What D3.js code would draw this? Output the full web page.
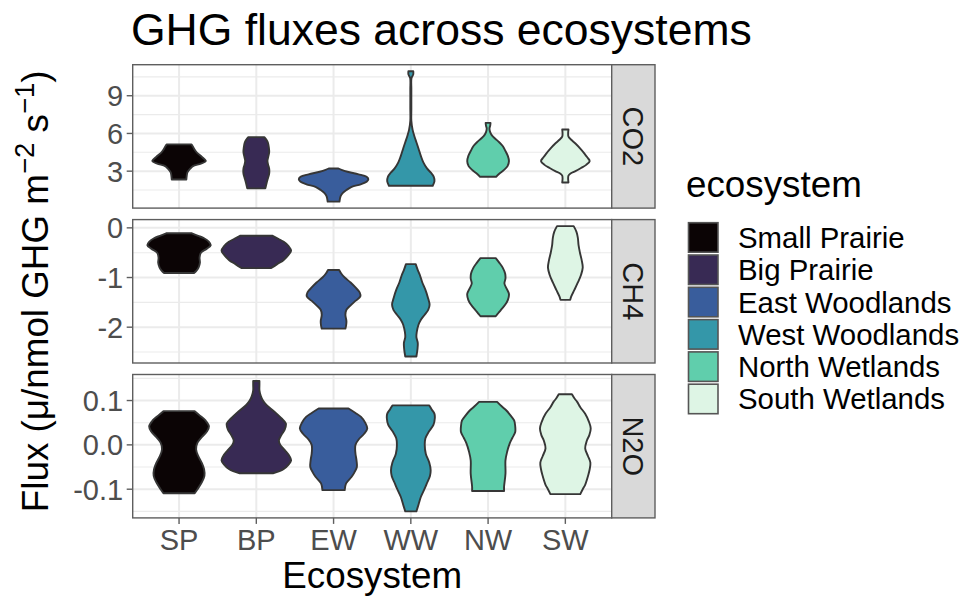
<!DOCTYPE html>
<html>
<head>
<meta charset="utf-8">
<script src="https://cdn.jsdelivr.net/npm/d3@7"></script>
<style>
  html, body { margin: 0; padding: 0; background: #fff; }
  svg { display: block; font-family: "Liberation Sans", Arial, Helvetica, sans-serif; }
</style>
</head>
<body>
<svg id="chart" width="965" height="596"></svg>
<script>
// Ecosystems (x categories) and their legend names
const codes = ["SP", "BP", "EW", "WW", "NW", "SW"];
const ecosystems = ["Small Prairie", "Big Prairie", "East Woodlands", "West Woodlands", "North Wetlands", "South Wetlands"];
const palette = ["#0B0405", "#382A54", "#395D9C", "#3497A9", "#60CEAC", "#DEF5E5"];

// Facet rows
const gases = ["CO2", "CH4", "N2O"];

// Tick values and labels per facet
const co2Ticks = [3, 6, 9];
const co2TickLabels = ["3", "6", "9"];
const ch4Ticks = [-2, -1, 0];
const ch4TickLabels = ["-2", "-1", "0"];
const n2oTicks = [-0.1, 0, 0.1];
const n2oTickLabels = ["-0.1", "0.0", "0.1"];

// Violin profiles: [flux value, scaled density (1 = widest violin)], top to bottom
const co2Density = [
  [[5.13,0.36],[4.95,0.40],[4.7,0.45],[4.45,0.52],[4.2,0.63],[3.95,0.73],[3.8,0.77],[3.6,0.63],[3.4,0.40],[3.2,0.32],[2.9,0.24],[2.6,0.22],[2.34,0.21]],
  [[5.71,0.23],[5.5,0.29],[5.3,0.33],[4.9,0.36],[4.5,0.37],[4.1,0.34],[3.8,0.32],[3.5,0.34],[3.2,0.37],[2.8,0.37],[2.5,0.34],[2.1,0.30],[1.63,0.26]],
  [[3.21,0.14],[3.1,0.23],[2.95,0.40],[2.75,0.72],[2.55,0.95],[2.35,1.0],[2.15,0.95],[1.95,0.78],[1.75,0.52],[1.5,0.37],[1.25,0.26],[1.0,0.20],[0.58,0.17]],
  [[10.95,0.07],[10.7,0.07],[10.4,0.02],[9.5,0.015],[8,0.015],[7,0.015],[6.3,0.05],[5.8,0.10],[5.3,0.16],[4.8,0.22],[4.2,0.29],[3.7,0.36],[3.2,0.47],[2.9,0.57],[2.55,0.66],[2.2,0.68],[1.84,0.63]],
  [[6.84,0.07],[6.6,0.06],[6.4,0.04],[6.1,0.06],[5.85,0.11],[5.6,0.20],[5.3,0.32],[5.0,0.42],[4.6,0.50],[4.2,0.57],[3.8,0.60],[3.4,0.56],[3.1,0.46],[2.8,0.32],[2.55,0.23]],
  [[6.31,0.09],[6.0,0.08],[5.75,0.09],[5.5,0.17],[5.2,0.29],[4.8,0.43],[4.4,0.55],[4.1,0.63],[3.8,0.70],[3.5,0.60],[3.25,0.45],[3.0,0.29],[2.8,0.14],[2.65,0.09],[2.4,0.08],[2.1,0.09]]
];
const ch4Density = [
  [[-0.11,0.37],[-0.16,0.55],[-0.21,0.72],[-0.28,0.86],[-0.35,0.91],[-0.42,0.80],[-0.5,0.63],[-0.6,0.59],[-0.7,0.60],[-0.8,0.56],[-0.87,0.49],[-0.91,0.43]],
  [[-0.16,0.47],[-0.22,0.63],[-0.28,0.79],[-0.36,0.92],[-0.46,1.0],[-0.55,0.92],[-0.65,0.78],[-0.73,0.60],[-0.81,0.43]],
  [[-0.85,0.16],[-0.92,0.22],[-1.0,0.32],[-1.1,0.49],[-1.2,0.63],[-1.3,0.75],[-1.38,0.77],[-1.47,0.63],[-1.56,0.49],[-1.65,0.37],[-1.75,0.34],[-1.88,0.37],[-1.97,0.36],[-2.03,0.34]],
  [[-0.73,0.14],[-0.85,0.20],[-0.95,0.26],[-1.1,0.33],[-1.25,0.42],[-1.4,0.49],[-1.55,0.54],[-1.65,0.50],[-1.75,0.40],[-1.85,0.29],[-1.95,0.22],[-2.1,0.17],[-2.2,0.16],[-2.32,0.20],[-2.45,0.19],[-2.59,0.16]],
  [[-0.61,0.22],[-0.7,0.32],[-0.8,0.42],[-0.92,0.49],[-1.02,0.50],[-1.12,0.47],[-1.22,0.53],[-1.33,0.60],[-1.45,0.57],[-1.55,0.49],[-1.65,0.37],[-1.72,0.29],[-1.78,0.22]],
  [[0.035,0.24],[-0.08,0.32],[-0.2,0.36],[-0.35,0.38],[-0.5,0.42],[-0.65,0.47],[-0.8,0.50],[-0.95,0.45],[-1.1,0.36],[-1.25,0.26],[-1.38,0.17],[-1.45,0.14]]
];
const n2oDensity = [
  [[0.076,0.45],[0.066,0.60],[0.055,0.76],[0.042,0.86],[0.03,0.80],[0.018,0.66],[0.005,0.53],[-0.01,0.49],[-0.025,0.55],[-0.04,0.65],[-0.055,0.72],[-0.07,0.73],[-0.085,0.65],[-0.1,0.53],[-0.109,0.45]],
  [[0.144,0.09],[0.135,0.09],[0.123,0.09],[0.11,0.13],[0.1,0.19],[0.09,0.29],[0.075,0.52],[0.06,0.72],[0.048,0.85],[0.035,0.82],[0.022,0.72],[0.01,0.65],[0.0,0.69],[-0.012,0.82],[-0.025,0.95],[-0.035,1.0],[-0.045,0.92],[-0.055,0.78],[-0.064,0.48]],
  [[0.082,0.43],[0.072,0.63],[0.063,0.79],[0.05,0.91],[0.037,0.97],[0.025,0.88],[0.012,0.72],[0.0,0.63],[-0.01,0.62],[-0.02,0.63],[-0.035,0.66],[-0.05,0.67],[-0.062,0.60],[-0.072,0.52],[-0.087,0.36],[-0.102,0.32]],
  [[0.089,0.53],[0.08,0.60],[0.07,0.68],[0.06,0.69],[0.045,0.65],[0.03,0.52],[0.015,0.42],[0.0,0.40],[-0.02,0.43],[-0.04,0.53],[-0.057,0.57],[-0.07,0.55],[-0.087,0.46],[-0.1,0.39],[-0.117,0.29],[-0.135,0.22],[-0.15,0.16]],
  [[0.097,0.26],[0.087,0.39],[0.078,0.52],[0.066,0.65],[0.055,0.75],[0.042,0.78],[0.029,0.78],[0.016,0.70],[0.003,0.62],[-0.015,0.55],[-0.035,0.50],[-0.065,0.50],[-0.094,0.46],[-0.104,0.46]],
  [[0.114,0.19],[0.105,0.26],[0.097,0.34],[0.085,0.43],[0.07,0.57],[0.052,0.68],[0.037,0.73],[0.022,0.69],[0.01,0.62],[-0.008,0.57],[-0.025,0.65],[-0.04,0.72],[-0.055,0.70],[-0.068,0.66],[-0.09,0.57],[-0.1,0.50],[-0.111,0.43]]
];

const facets = [
  { gas: gases[0], profiles: co2Density, ticks: co2Ticks, labels: co2TickLabels },
  { gas: gases[1], profiles: ch4Density, ticks: ch4Ticks, labels: ch4TickLabels },
  { gas: gases[2], profiles: n2oDensity, ticks: n2oTicks, labels: n2oTickLabels }
];

// Layout
const panelLeft = 132.7, panelRight = 611.7;
const panelTop = 64.7, panelH = 143.4, panelGap = 11.5;
const stripW = 43.3;
const borderCol = "#5e5e5e";
const tickFont = 29, legendFont = 29.4, baseFont = 36.8;

const svg = d3.select("#chart");

const x = d3.scalePoint().domain(codes).range([panelLeft, panelRight]).padding(0.6);
const halfMax = 0.45 * x.step();

facets.forEach((f, i) => {
  const top = panelTop + i * (panelH + panelGap);
  const bottom = top + panelH;

  // data range with 5% expansion, as in the default continuous scale
  const all = f.profiles.flat().map(d => d[0]);
  const lo = d3.min(all), hi = d3.max(all), r = hi - lo;
  const y = d3.scaleLinear().domain([lo - 0.05 * r, hi + 0.05 * r]).range([bottom, top]);

  const g = svg.append("g");

  // minor grid at half steps between breaks
  const stepT = f.ticks[1] - f.ticks[0];
  const minor = [];
  for (let v = f.ticks[0] - stepT / 2; v <= y.domain()[1]; v += stepT) {
    if (v >= y.domain()[0]) minor.push(v);
  }
  g.selectAll(".minor").data(minor).join("line")
    .attr("x1", panelLeft).attr("x2", panelRight)
    .attr("y1", d => y(d)).attr("y2", d => y(d))
    .attr("stroke", "#EBEBEB").attr("stroke-width", 1.1);
  g.selectAll(".major").data(f.ticks).join("line")
    .attr("x1", panelLeft).attr("x2", panelRight)
    .attr("y1", d => y(d)).attr("y2", d => y(d))
    .attr("stroke", "#EBEBEB").attr("stroke-width", 2);
  g.selectAll(".vmajor").data(codes).join("line")
    .attr("x1", d => x(d)).attr("x2", d => x(d))
    .attr("y1", top).attr("y2", bottom)
    .attr("stroke", "#EBEBEB").attr("stroke-width", 2);

  // violins
  f.profiles.forEach((prof, k) => {
    const cx = x(codes[k]);
    const area = d3.area()
      .y(d => y(d[0]))
      .x0(d => cx - d[1] * halfMax)
      .x1(d => cx + d[1] * halfMax)
      .curve(d3.curveCatmullRom.alpha(0.5));
    g.append("path")
      .attr("d", area(prof))
      .attr("fill", palette[k])
      .attr("stroke", "#363636")
      .attr("stroke-width", 1.9)
      .attr("stroke-linejoin", "round");
  });

  // panel border
  g.append("rect")
    .attr("x", panelLeft).attr("y", top)
    .attr("width", panelRight - panelLeft).attr("height", panelH)
    .attr("fill", "none").attr("stroke", borderCol).attr("stroke-width", 1.4);

  // strip on the right
  g.append("rect")
    .attr("x", panelRight).attr("y", top)
    .attr("width", stripW).attr("height", panelH)
    .attr("fill", "#D9D9D9").attr("stroke", borderCol).attr("stroke-width", 1.4);
  g.append("text")
    .attr("transform", `translate(${panelRight + stripW / 2},${top + panelH / 2}) rotate(90)`)
    .attr("y", 0.358 * tickFont)
    .attr("text-anchor", "middle")
    .attr("font-size", tickFont)
    .attr("fill", "#1A1A1A")
    .text(f.gas);

  // y axis ticks and labels
  f.ticks.forEach((t, j) => {
    g.append("line")
      .attr("x1", panelLeft - 6).attr("x2", panelLeft)
      .attr("y1", y(t)).attr("y2", y(t))
      .attr("stroke", borderCol).attr("stroke-width", 1.4);
    g.append("text")
      .attr("x", panelLeft - 9.5)
      .attr("y", y(t) + 0.358 * tickFont)
      .attr("text-anchor", "end")
      .attr("font-size", tickFont)
      .attr("fill", "#4D4D4D")
      .text(f.labels[j]);
  });

  // x axis on the bottom facet only
  if (i === facets.length - 1) {
    codes.forEach(c => {
      g.append("line")
        .attr("x1", x(c)).attr("x2", x(c))
        .attr("y1", bottom).attr("y2", bottom + 6)
        .attr("stroke", borderCol).attr("stroke-width", 1.4);
      g.append("text")
        .attr("x", x(c)).attr("y", bottom + 32)
        .attr("text-anchor", "middle")
        .attr("font-size", tickFont)
        .attr("fill", "#4D4D4D")
        .text(c);
    });
  }
});

// Title
svg.append("text")
  .attr("x", 131).attr("y", 45)
  .attr("font-size", 44.5)
  .attr("fill", "#000")
  .text("GHG fluxes across ecosystems");

// Axis titles
svg.append("text")
  .attr("x", (panelLeft + panelRight) / 2).attr("y", 588)
  .attr("text-anchor", "middle")
  .attr("font-size", baseFont)
  .attr("fill", "#000")
  .text("Ecosystem");

const yTitle = svg.append("text")
  .attr("transform", `translate(48,${panelTop + (3 * panelH + 2 * panelGap) / 2}) rotate(-90)`)
  .attr("text-anchor", "middle")
  .attr("font-size", baseFont)
  .attr("fill", "#000");
yTitle.append("tspan").text("Flux (μ/nmol GHG m");
yTitle.append("tspan").attr("dy", -14).attr("font-size", 27.5).text("−2");
yTitle.append("tspan").attr("dy", 14).text(" s");
yTitle.append("tspan").attr("dy", -14).attr("font-size", 27.5).text("−1");
yTitle.append("tspan").attr("dy", 14).text(")");

// Legend
const legX = 688.5, legY = 222.7, keySize = 29.5, keyPitch = 32.3;
svg.append("text")
  .attr("x", 686).attr("y", 197)
  .attr("font-size", baseFont)
  .attr("fill", "#000")
  .text("ecosystem");
const items = svg.append("g").selectAll("g").data(ecosystems).join("g")
  .attr("transform", (d, i) => `translate(${legX},${legY + i * keyPitch})`);
items.append("rect")
  .attr("width", keySize).attr("height", keySize)
  .attr("fill", (d, i) => palette[i])
  .attr("stroke", "#555555").attr("stroke-width", 1.6);
items.append("text")
  .attr("x", 49.5).attr("y", keySize / 2 + 0.358 * legendFont)
  .attr("font-size", legendFont)
  .attr("fill", "#000")
  .text(d => d);
</script>
</body>
</html>
